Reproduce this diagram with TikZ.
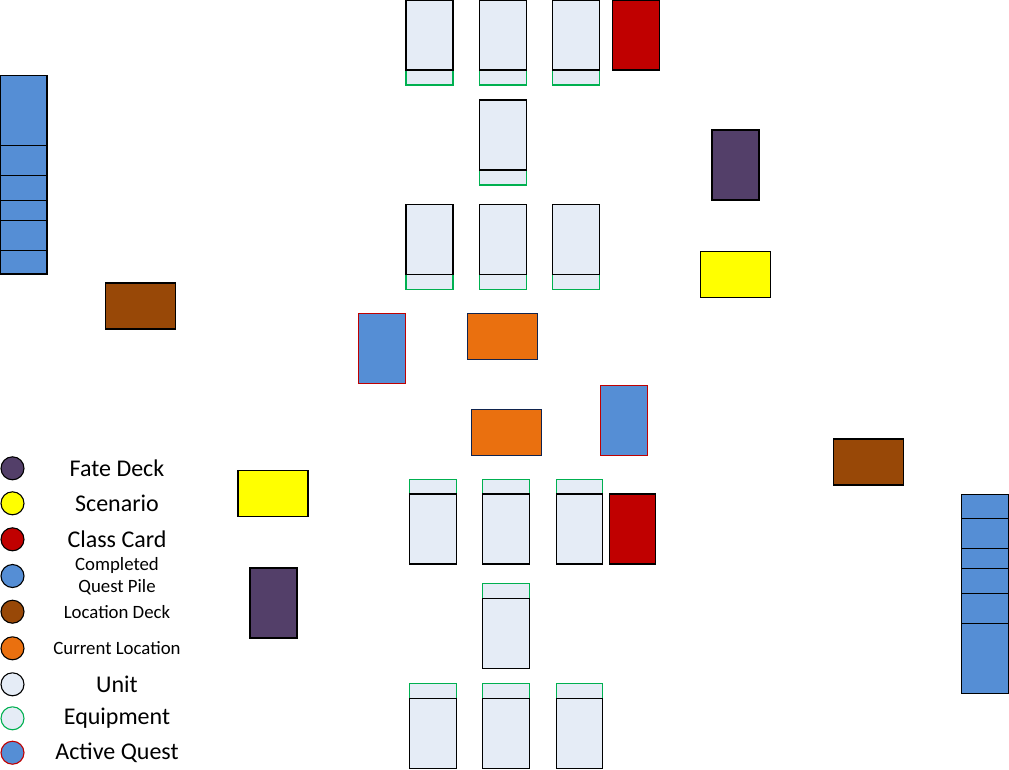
\documentclass[tikz,border=0pt]{standalone}
\usepackage{fontspec}
\setmainfont{Carlito}
\definecolor{unitfill}{HTML}{E5ECF6}
\definecolor{equipgreen}{HTML}{00B050}
\definecolor{questblue}{HTML}{558ED5}
\definecolor{questred}{HTML}{C00000}
\definecolor{classred}{HTML}{C00000}
\definecolor{fatepurple}{HTML}{533F69}
\definecolor{scenyellow}{HTML}{FFFF00}
\definecolor{locbrown}{HTML}{984807}
\definecolor{curorange}{HTML}{EA700F}
\definecolor{curnavy}{HTML}{10244F}

\begin{document}
\begin{tikzpicture}[x=1pt,y=-1pt,line width=1.1pt,
    every node/.style={inner sep=0pt,outer sep=0pt},
    card/.style={draw=black,minimum width=47,minimum height=70},
    unit/.style={card,fill=unitfill},
    equip/.style={draw=equipgreen,fill=unitfill,minimum width=47,minimum height=15},
    classcard/.style={card,fill=classred},
    fatedeck/.style={card,fill=fatepurple},
    activequest/.style={card,draw=questred,fill=questblue},
    wide/.style={draw=black,minimum width=70,minimum height=46},
    scenario/.style={wide,fill=scenyellow},
    locdeck/.style={wide,fill=locbrown},
    curloc/.style={wide,draw=curnavy,fill=curorange},
    pile/.style={draw=black,fill=questblue},
    key/.style={circle,draw=black,minimum size=23},
    bigtext/.style={font=\fontsize{24}{26}\selectfont},
    smalltext/.style={font=\fontsize{18.8}{22}\selectfont,align=center}]
    \useasboundingbox (0,0) rectangle (1009,769);

    % top player area
    \node[equip] (te1) at (429.5,77.5) {};
    \node[unit] (tu1) at (429.5,35) {};
    \node[equip] (te2) at (503,77.5) {};
    \node[unit] (tu2) at (503,35) {};
    \node[equip] (te3) at (576,77.5) {};
    \node[unit] (tu3) at (576,35) {};
    \node[classcard] (tclass) at (636,35) {};
    \node[equip] (te4) at (503,177.5) {};
    \node[unit] (tu4) at (503,135) {};
    \node[equip] (te5) at (429.5,282) {};
    \node[unit] (tu5) at (429.5,239.5) {};
    \node[equip] (te6) at (503,282) {};
    \node[unit] (tu6) at (503,239.5) {};
    \node[equip] (te7) at (576,282) {};
    \node[unit] (tu7) at (576,239.5) {};
    \node[fatedeck] (tfate) at (735.5,165) {};
    \node[scenario] (tscen) at (735.5,274.5) {};
    \node[locdeck] (tloc) at (140.5,306) {};
    \node[activequest] (tquest) at (382,348.5) {};
    \node[curloc] (tcur) at (502.5,336.5) {};

    % completed quest piles
    \foreach \a/\b in {75.3/145.3,145.3/175.3,175.3/200.7,200.7/220.7,220.7/250.7,250.7/274}
        \draw[pile] (0,\a) rectangle (47,\b);
    \foreach \a/\b in {494.3/518.7,518.7/548.3,548.3/568.3,568.3/593.3,593.3/623.3,623.3/693.3}
        \draw[pile] (961.3,\a) rectangle (1008.3,\b);

    % bottom player area
    \node[curloc] (bcur) at (506.5,432.5) {};
    \node[activequest] (bquest) at (624,420.5) {};
    \node[locdeck] (bloc) at (868.5,462) {};
    \node[scenario] (bscen) at (273,493.5) {};
    \node[fatedeck] (bfate) at (273.5,603) {};
    \node[equip] (be1) at (433,486.8) {};
    \node[unit] (bu1) at (433,529) {};
    \node[equip] (be2) at (506,486.8) {};
    \node[unit] (bu2) at (506,529) {};
    \node[equip,minimum width=46] (be3) at (579.3,486.8) {};
    \node[unit,minimum width=46] (bu3) at (579.3,529) {};
    \node[classcard,minimum width=46] (bclass) at (632.3,529) {};
    \node[equip] (be4) at (506,590.8) {};
    \node[unit] (bu4) at (506,633.3) {};
    \node[equip] (be5) at (433,690.8) {};
    \node[unit] (bu5) at (433,733.3) {};
    \node[equip] (be6) at (506,690.8) {};
    \node[unit] (bu6) at (506,733.3) {};
    \node[equip,minimum width=46] (be7) at (579.3,690.8) {};
    \node[unit,minimum width=46] (bu7) at (579.3,733.3) {};

    % legend
    \node[key,fill=fatepurple] (k1) at (12.5,468.3) {};
    \node[bigtext] (l1) at (117,468.3) {Fate Deck};
    \node[key,fill=scenyellow] (k2) at (12.5,503.3) {};
    \node[bigtext] (l2) at (117,503.3) {Scenario};
    \node[key,fill=classred] (k3) at (12.5,539.3) {};
    \node[bigtext] (l3) at (117,539.3) {Class Card};
    \node[key,fill=questblue] (k4) at (12.5,576) {};
    \node[smalltext] (l4) at (117,576) {Completed\\Quest Pile};
    \node[key,fill=locbrown] (k5) at (12.5,611.7) {};
    \node[smalltext] (l5) at (117,611.7) {Location Deck};
    \node[key,fill=curorange] (k6) at (12.5,648.3) {};
    \node[smalltext] (l6) at (117,648.3) {Current Location};
    \node[key,fill=unitfill] (k7) at (12.5,684.3) {};
    \node[bigtext] (l7) at (117,684.3) {Unit};
    \node[key,draw=equipgreen,fill=unitfill] (k8) at (12.5,718.3) {};
    \node[bigtext] (l8) at (117,718.3) {Equipment};
    \node[key,draw=questred,fill=questblue] (k9) at (12.5,752.7) {};
    \node[bigtext] (l9) at (117,752.7) {Active Quest};
\end{tikzpicture}
\end{document}
